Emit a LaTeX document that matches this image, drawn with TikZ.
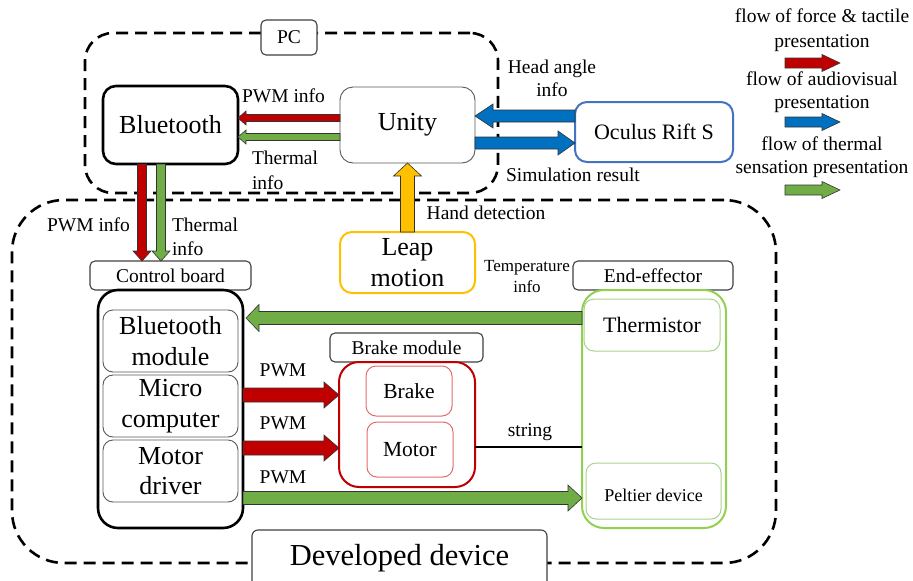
\documentclass[tikz,border=0pt]{standalone}
\usepackage{fontspec}
\setmainfont{Liberation Serif}
\usetikzlibrary{calc}
\definecolor{cred}{HTML}{C00000}
\definecolor{cgreen}{HTML}{70AD47}
\definecolor{cblue}{HTML}{0070C0}
\definecolor{cyellow}{HTML}{FFC000}
\definecolor{clgreen}{HTML}{92D050}
\definecolor{cbluebd}{HTML}{4472C4}
\definecolor{cpalered}{HTML}{E26B6B}
\definecolor{cpalegreen}{HTML}{A9D18E}
\newcommand{\fsz}[2]{\rmfamily\fontsize{#1pt}{#2pt}\selectfont}
\begin{document}
\begin{tikzpicture}[x=1pt,y=-1pt,
  every node/.style={inner sep=0pt, outer sep=0pt, align=center},
  lblfont/.style={font=\fsz{19.5}{24}},
  bigfont/.style={font=\fsz{26}{30.5}},
  dashreg/.style={draw, line width=2.6pt, dash pattern=on 12pt off 7pt, rounded corners=#1},
  tagbox/.style={draw=black!75, line width=1.1pt, rounded corners=5pt, fill=white, lblfont},
  mainbox/.style={draw=black, line width=2.6pt, rounded corners=#1, fill=white},
  thinbox/.style={draw=black!65, line width=0.9pt, rounded corners=#1, fill=white},
  barrow/.style n args={4}{draw=black!80, line width=0.6pt, fill=#1, line join=miter,
    to path={
      ($(\tikztostart)!#2!90:(\tikztotarget)$)
      -- ($(\tikztotarget)!#4!(\tikztostart)!#2!-90:(\tikztostart)$)
      -- ($(\tikztotarget)!#4!(\tikztostart)!#3!-90:(\tikztostart)$)
      -- (\tikztotarget)
      -- ($(\tikztotarget)!#4!(\tikztostart)!#3!90:(\tikztostart)$)
      -- ($(\tikztotarget)!#4!(\tikztostart)!#2!90:(\tikztostart)$)
      -- ($(\tikztostart)!#2!-90:(\tikztotarget)$) -- cycle}},
]
\useasboundingbox (0,0) rectangle (913,581);

% ---- regions
\node[dashreg=28pt, minimum width=413pt, minimum height=160pt] (pcreg) at (291.5,113) {};
\node[dashreg=52pt, minimum width=764pt, minimum height=363pt] (devreg) at (394,381.5) {};
\node[tagbox] (pcl) at (289,37.5) [minimum width=56pt, minimum height=35pt] {PC};
\node[thinbox=6pt, draw=black!75, line width=1.1pt, minimum width=295pt, minimum height=70pt,
      text height=18pt, text depth=18pt, font=\fsz{30.5}{36}] (devl) at (399.5,565) {Developed device};

% ---- PC contents
\node[mainbox=13pt, minimum width=135pt, minimum height=78pt, bigfont] (bt) at (170.5,125) {Bluetooth};
\node[thinbox=13pt, minimum width=135pt, minimum height=76pt, bigfont] (unity) at (407.5,125) {Unity};
\node[draw=cbluebd, line width=2pt, rounded corners=12pt, minimum width=158pt, minimum height=60pt,
      font=\fsz{22}{26}] (oculus) at (654,132) {Oculus Rift S};

% ---- developed device contents
\node[tagbox] (cbl) at (170.5,275.5) [minimum width=161pt, minimum height=29pt] {Control board};
\node[mainbox=20pt, minimum width=145pt, minimum height=238pt] (cb) at (170.5,409) {};
\node[thinbox=10pt, minimum width=135pt, minimum height=62pt, bigfont] (btm) at (170.5,341) {Bluetooth\\module};
\node[thinbox=10pt, minimum width=135pt, minimum height=62pt, bigfont] (mc) at (170.5,406) {Micro\\computer};
\node[thinbox=10pt, minimum width=135pt, minimum height=62pt, bigfont] (md) at (170.5,471) {Motor\\driver};

\node[draw=cyellow, line width=2pt, rounded corners=12pt, fill=white, minimum width=135pt, minimum height=61pt,
      bigfont] (leap) at (407.5,262.5) {Leap\\motion};

\node[tagbox] (eel) at (653,275.5) [minimum width=160pt, minimum height=29pt] {End-effector};
\node[draw=clgreen, line width=2pt, rounded corners=22pt, minimum width=144pt, minimum height=238pt] (ee) at (654,409) {};
\node[draw=cpalegreen, line width=1pt, rounded corners=10pt, minimum width=136pt, minimum height=52pt,
      font=\fsz{22}{26}] (therm) at (652,325) {Thermistor};
\node[draw=cpalegreen, line width=1pt, rounded corners=10pt, minimum width=135pt, minimum height=56pt,
      font=\fsz{18}{22}, text height=25pt, text depth=5pt] (pelt) at (653.5,491) {Peltier device};

\node[tagbox] (bml) at (406.5,347.5) [minimum width=153pt, minimum height=29pt] {Brake module};
\node[draw=cred, line width=2pt, rounded corners=20pt, minimum width=136pt, minimum height=125pt] (bm) at (407,424.5) {};
\node[draw=cpalered, line width=1pt, rounded corners=10pt, minimum width=86pt, minimum height=50pt,
      font=\fsz{21.5}{26}] (brake) at (409,391) {Brake};
\node[draw=cpalered, line width=1pt, rounded corners=10pt, minimum width=86pt, minimum height=55pt,
      font=\fsz{21.5}{26}] (motor) at (410,449.5) {Motor};

% ---- connectors in PC
\draw[barrow={cred}{3.5pt}{7pt}{8pt}] ([yshift=7pt]unity.west) to ([yshift=7pt]bt.east);
\draw[barrow={cgreen}{3.5pt}{7pt}{8pt}] ([yshift=-12pt]unity.west) to ([yshift=-12pt]bt.east);
\draw[barrow={cblue}{6pt}{12pt}{18pt}] ([yshift=16pt]oculus.west) to ([yshift=9pt]unity.east);
\draw[barrow={cblue}{6pt}{12pt}{17pt}] ([yshift=-18pt]unity.east) to ([yshift=-11pt]oculus.west);

% ---- vertical connectors
\draw[barrow={cred}{4.5pt}{9pt}{10pt}] ([xshift=-28.5pt]bt.south) to ([xshift=-28.5pt]cbl.north);
\draw[barrow={cgreen}{4.5pt}{9pt}{10pt}] ([xshift=-9.5pt]bt.south) to ([xshift=-9.5pt]cbl.north);
\draw[barrow={cyellow}{7pt}{14pt}{13pt}] (leap.north) to (unity.south);

% ---- connectors in developed device
\draw[barrow={cgreen}{6.5pt}{13.5pt}{13pt}] ([yshift=91pt]ee.west) to ([xshift=3pt,yshift=91pt]cb.east);
\draw[barrow={cred}{7pt}{13pt}{15pt}] ([yshift=14pt]cb.east) to ([yshift=29.5pt]bm.west);
\draw[barrow={cred}{7pt}{13pt}{15pt}] ([yshift=-39pt]cb.east) to ([yshift=-23.5pt]bm.west);
\draw[barrow={cgreen}{6.5pt}{13pt}{14pt}] ([yshift=-89pt]cb.east) to ([yshift=-89pt]ee.west);
\draw[line width=2.5pt] ([yshift=-22.5pt]bm.east) -- ([yshift=-38pt]ee.west);

% ---- labels
\node[lblfont] (l1) at (283.5,96) {PWM info};
\node[anchor=west, align=left, font=\fsz{19.5}{25}] (l2) at (252,170.5) {Thermal\\info};
\node[font=\fsz{19.5}{23}] (l3) at (552,78.5) {Head angle\\info};
\node[lblfont] (l4) at (573,175) {Simulation result};
\node[lblfont] (l5) at (88.5,225) {PWM info};
\node[anchor=west, align=left, font=\fsz{19.5}{24}] (l6) at (172,237) {Thermal\\info};
\node[lblfont] (l7) at (486,213) {Hand detection};
\node[font=\fsz{17}{21}] (l8) at (527,276.5) {Temperature\\info};
\node[lblfont] (l9) at (283,370) {PWM};
\node[lblfont] (l10) at (283,423) {PWM};
\node[lblfont] (l11) at (283,477) {PWM};
\node[lblfont] (l12) at (530,432) {string};

% ---- legend
\node[font=\fsz{19.5}{25}] (lg1) at (822,30.5) {flow of force \& tactile\\presentation};
\node[font=\fsz{19.5}{23}] (lg2) at (822,92) {flow of audiovisual\\presentation};
\node[font=\fsz{19.5}{23}] (lg3) at (822,157.5) {flow of thermal\\sensation presentation};
\coordinate (lga1) at (785,63);  \coordinate (lgb1) at (840,63);
\coordinate (lga2) at (785,122); \coordinate (lgb2) at (840,122);
\coordinate (lga3) at (785,190); \coordinate (lgb3) at (840,190);
\draw[barrow={cred}{5pt}{8.5pt}{18pt}] (lga1) to (lgb1);
\draw[barrow={cblue}{5pt}{8.5pt}{18pt}] (lga2) to (lgb2);
\draw[barrow={cgreen}{5pt}{8.5pt}{18pt}] (lga3) to (lgb3);
\end{tikzpicture}
\end{document}
